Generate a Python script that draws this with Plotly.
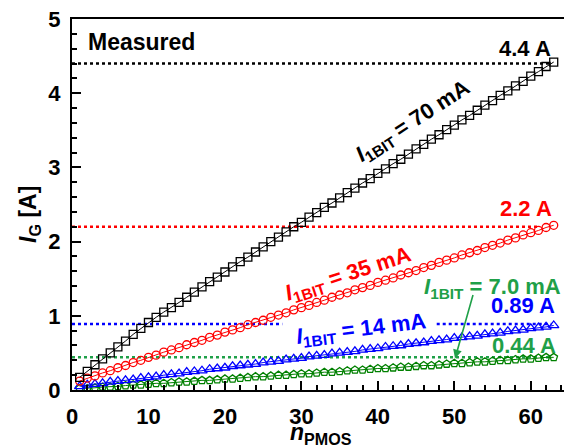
import plotly.graph_objects as go

n_pmos = list(range(1, 64))

ig_70mA = [0.17, 0.25, 0.34, 0.42, 0.50, 0.58, 0.66, 0.75, 0.83, 0.91,
           0.98, 1.05, 1.11, 1.18, 1.25, 1.32, 1.39, 1.46, 1.52, 1.59,
           1.66, 1.73, 1.79, 1.86, 1.93, 2.00, 2.06, 2.13, 2.20, 2.26,
           2.33, 2.39, 2.46, 2.52, 2.59, 2.66, 2.72, 2.79, 2.85, 2.92,
           2.98, 3.05, 3.11, 3.18, 3.25, 3.31, 3.38, 3.44, 3.51, 3.57,
           3.64, 3.70, 3.77, 3.84, 3.90, 3.97, 4.03, 4.10, 4.16, 4.23,
           4.29, 4.36, 4.42]

ig_35mA = [0.12, 0.16, 0.19, 0.23, 0.26, 0.30, 0.33, 0.37, 0.40, 0.44,
           0.47, 0.51, 0.54, 0.57, 0.61, 0.64, 0.67, 0.71, 0.74, 0.78,
           0.81, 0.84, 0.88, 0.91, 0.94, 0.98, 1.01, 1.04, 1.08, 1.11,
           1.14, 1.18, 1.21, 1.25, 1.28, 1.31, 1.35, 1.38, 1.41, 1.45,
           1.48, 1.51, 1.55, 1.58, 1.61, 1.65, 1.68, 1.72, 1.75, 1.78,
           1.82, 1.85, 1.88, 1.92, 1.95, 1.98, 2.02, 2.05, 2.09, 2.12,
           2.15, 2.19, 2.22]

ig_14mA = [0.05, 0.07, 0.08, 0.09, 0.11, 0.12, 0.13, 0.14, 0.16, 0.17,
           0.18, 0.20, 0.21, 0.22, 0.24, 0.25, 0.26, 0.28, 0.29, 0.30,
           0.32, 0.33, 0.34, 0.35, 0.37, 0.38, 0.39, 0.41, 0.42, 0.43,
           0.45, 0.46, 0.47, 0.49, 0.50, 0.51, 0.52, 0.54, 0.55, 0.56,
           0.58, 0.59, 0.60, 0.62, 0.63, 0.64, 0.66, 0.67, 0.68, 0.70,
           0.71, 0.72, 0.73, 0.75, 0.76, 0.77, 0.79, 0.80, 0.81, 0.83,
           0.84, 0.85, 0.87]

ig_7mA = [0.02, 0.02, 0.03, 0.04, 0.04, 0.05, 0.06, 0.07, 0.07, 0.08,
          0.09, 0.09, 0.10, 0.11, 0.11, 0.12, 0.13, 0.13, 0.14, 0.15,
          0.15, 0.16, 0.17, 0.18, 0.18, 0.19, 0.20, 0.20, 0.21, 0.22,
          0.22, 0.23, 0.24, 0.24, 0.25, 0.26, 0.27, 0.27, 0.28, 0.29,
          0.29, 0.30, 0.31, 0.31, 0.32, 0.33, 0.33, 0.34, 0.35, 0.36,
          0.36, 0.37, 0.38, 0.38, 0.39, 0.40, 0.40, 0.41, 0.42, 0.42,
          0.43, 0.44, 0.44]

ref_levels = [4.4, 2.2, 0.89, 0.44]
ref_labels = ["4.4 A", "2.2 A", "0.89 A", "0.44 A"]
bit_labels = ["70 mA", "35 mA", "14 mA", "7.0 mA"]

FONT = "Liberation Sans, Arial, sans-serif"
BLACK = "#000000"
RED = "#ff0000"
BLUE = "#0000ff"
GREEN_M = "#008000"
GREEN_T = "#1fa048"

fig = go.Figure()

# dotted reference lines
dot_specs = [
    (ref_levels[0], [0, 62.5], BLACK),
    (ref_levels[1], [0, 60.9], RED),
    (ref_levels[2], [0, 27.5], BLUE),
    (ref_levels[2], [47.7, 62.7], BLUE),
    (ref_levels[3], [0, 62.7], GREEN_T),
]
for lvl, xs, col in dot_specs:
    fig.add_trace(go.Scatter(x=xs, y=[lvl, lvl], mode="lines",
                             line=dict(color=col, width=2.5, dash="dot"),
                             showlegend=False, hoverinfo="skip"))

series = [
    (ig_7mA, GREEN_M, "pentagon-open", 8),
    (ig_14mA, BLUE, "triangle-up-open", 9),
    (ig_35mA, RED, "circle-open", 8),
    (ig_70mA, BLACK, "square-open", 8),
]
for ys, col, sym, sz in series:
    fig.add_trace(go.Scatter(x=n_pmos, y=ys, mode="lines+markers",
                             line=dict(color=col, width=1),
                             marker=dict(symbol=sym, size=sz, color=col,
                                         line=dict(color=col, width=1.3)),
                             showlegend=False))

def lab(txt):
    return "<b><i>I</i><sub>1BIT</sub> = " + txt + "</b>"

LS = 22
ann = []
ann.append(dict(x=1.8, y=4.69, text="<b>Measured</b>", xanchor="left",
                yanchor="middle", showarrow=False,
                font=dict(size=23, color=BLACK, family=FONT)))
ref_pos = [(62.9, 4.60, BLACK), (63.1, 2.45, RED), (63.4, 1.14, BLUE),
           (63.5, 0.60, GREEN_T)]
for (x, y, c), t in zip(ref_pos, ref_labels):
    ann.append(dict(x=x, y=y, text="<b>" + t + "</b>", xanchor="right",
                    yanchor="middle", showarrow=False,
                    font=dict(size=LS, color=c, family=FONT)))
bit_pos = [(44.6, 3.61, -33, BLACK, "center"),
           (36.1, 1.55, -18, RED, "center"),
           (37.8, 0.81, -7, BLUE, "center"),
           (64.2, 1.38, 0, GREEN_T, "right")]
for (x, y, ang, c, xa), t in zip(bit_pos, bit_labels):
    ann.append(dict(x=x, y=y, text=lab(t), textangle=ang, xanchor=xa,
                    yanchor="middle", showarrow=False,
                    font=dict(size=LS, color=c, family=FONT)))
# arrow for 7.0 mA label
ann.append(dict(x=50.1, y=0.425, ax=52.5, ay=1.30, axref="x", ayref="y",
                xref="x", yref="y", text="", showarrow=True,
                arrowhead=2, arrowsize=1.1, arrowwidth=1.6,
                arrowcolor=GREEN_T))
# axis titles
ann.append(dict(xref="paper", yref="paper", x=0, y=0.472, xshift=-42,
                text="<b><i>I</i><sub>G</sub> [A]</b>", textangle=-90,
                showarrow=False, xanchor="center", yanchor="middle",
                font=dict(size=23, color=BLACK, family=FONT)))
ann.append(dict(xref="paper", yref="paper", x=0.5, y=0, yshift=-43,
                text="<b><i>n</i><sub>PMOS</sub></b>",
                showarrow=False, xanchor="center", yanchor="middle",
                font=dict(size=23, color=BLACK, family=FONT)))

axis_common = dict(showline=True, linecolor=BLACK, linewidth=2, mirror=True,
                   ticks="inside", ticklen=9, tickwidth=1.5, tickcolor=BLACK,
                   showgrid=False, zeroline=False, automargin=False,
                   ticklabeloverflow="allow",
                   tickfont=dict(size=22, color=BLACK, family=FONT, weight="bold"))

# page body has an 8px margin, so the figure is 8px smaller each way
fig.update_layout(
    width=564, height=437,
    margin=dict(l=64, r=3, t=11, b=55),
    paper_bgcolor="white", plot_bgcolor="white",
    annotations=ann,
    xaxis=dict(range=[0, 65], dtick=10, tick0=0,
               minor=dict(dtick=2, ticks="inside", ticklen=5, tickwidth=1.5,
                          tickcolor=BLACK),
               ticklabelstandoff=6, **axis_common),
    yaxis=dict(range=[0, 5], dtick=1, tick0=0,
               minor=dict(dtick=0.2, ticks="inside", ticklen=5, tickwidth=1.5,
                          tickcolor=BLACK),
               ticklabelstandoff=5, **axis_common),
)

fig.write_html("out.html")
